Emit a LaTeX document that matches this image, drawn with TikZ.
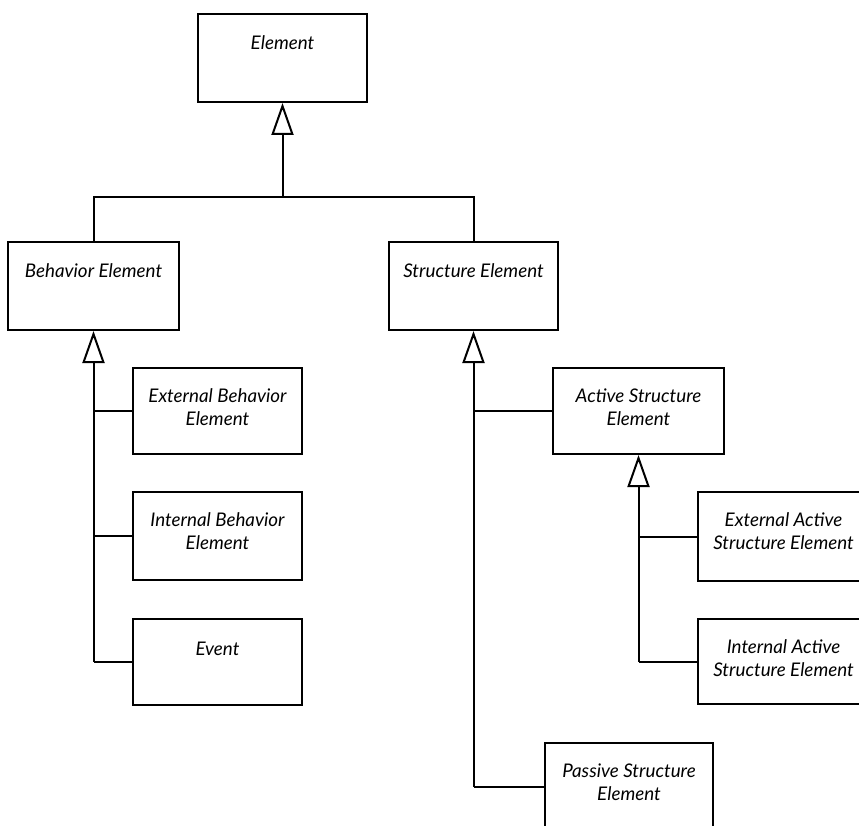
\documentclass[tikz,border=0pt]{standalone}
\usepackage{fontspec}
\setmainfont{Lato}
\usetikzlibrary{arrows.meta,calc}
\begin{document}
\begin{tikzpicture}[x=1pt,y=-1pt,
  box/.style={draw, line width=2pt, rectangle, inner sep=0pt, anchor=north west},
  lbl/.style={inner sep=0pt, align=center, anchor=base, font=\fontsize{18.8}{23}\selectfont\itshape},
  conn/.style={line width=2pt},
  gen/.style={line width=2pt, -{Triangle[open, length=32pt, width=22pt, line width=2pt]}}]
\useasboundingbox (0,0) rectangle (859,826);
\clip (0,0) rectangle (859,826);
% boxes
\node[box, minimum width=169pt, minimum height=88pt] (elem) at (197,13) {};
\node[box, minimum width=171pt, minimum height=88pt] (beh) at (7,241) {};
\node[box, minimum width=169pt, minimum height=88pt] (str) at (388,241) {};
\node[box, minimum width=169pt, minimum height=86pt] (extb) at (132,367) {};
\node[box, minimum width=169pt, minimum height=88pt] (intb) at (132,491) {};
\node[box, minimum width=169pt, minimum height=86pt] (evt) at (132,618) {};
\node[box, minimum width=171pt, minimum height=86pt] (act) at (552,367) {};
\node[box, minimum width=171pt, minimum height=89pt] (exta) at (697,491) {};
\node[box, minimum width=171pt, minimum height=85pt] (inta) at (697,618) {};
\node[box, minimum width=168pt, minimum height=88pt] (pas) at (544,742) {};
% labels (base = baseline of the last line)
\node[lbl] (elemL) at ($(elem.north)+(0,37)$) {Element};
\node[lbl] (behL) at ($(beh.north)+(0,37)$) {Behavior Element};
\node[lbl] (strL) at ($(str.north)+(0,37)$) {Structure Element};
\node[lbl] (extbL) at ($(extb.north)+(0,58)$) {External Behavior\\Element};
\node[lbl] (intbL) at ($(intb.north)+(0,58)$) {Internal Behavior\\Element};
\node[lbl] (evtL) at ($(evt.north)+(0,37)$) {Event};
\node[lbl] (actL) at ($(act.north)+(0,58)$) {Active Structure\\Element};
\node[lbl] (extaL) at ($(exta.north)+(0,58)$) {External Active\\Structure Element};
\node[lbl] (intaL) at ($(inta.north)+(0,58)$) {Internal Active\\Structure Element};
\node[lbl] (pasL) at ($(pas.north)+(0,58)$) {Passive Structure\\Element};
% connectors
\coordinate (top) at (elem.south |- 0,197);
\draw[conn] (beh.north) |- (top) -| (str.north);
\draw[gen] (top) -- (elem.south);
% behavior branch
\coordinate (bj) at (beh.south |- evt.west);
\draw[gen] (bj) -- (beh.south);
\draw[conn] (extb.west) -| (bj);
\draw[conn] (intb.west) -- (intb.west -| bj);
\draw[conn] (evt.west) -- (bj);
% structure branch
\coordinate (sj) at (str.south |- pas.west);
\draw[gen] (sj) -- (str.south);
\draw[conn] (act.west) -- (act.west -| sj);
\draw[conn] (pas.west) -- (sj);
% active branch
\coordinate (aj) at (act.south |- inta.west);
\draw[gen] (aj) -- (act.south);
\draw[conn] (exta.west) -- (exta.west -| aj);
\draw[conn] (inta.west) -- (aj);
\end{tikzpicture}
\end{document}
